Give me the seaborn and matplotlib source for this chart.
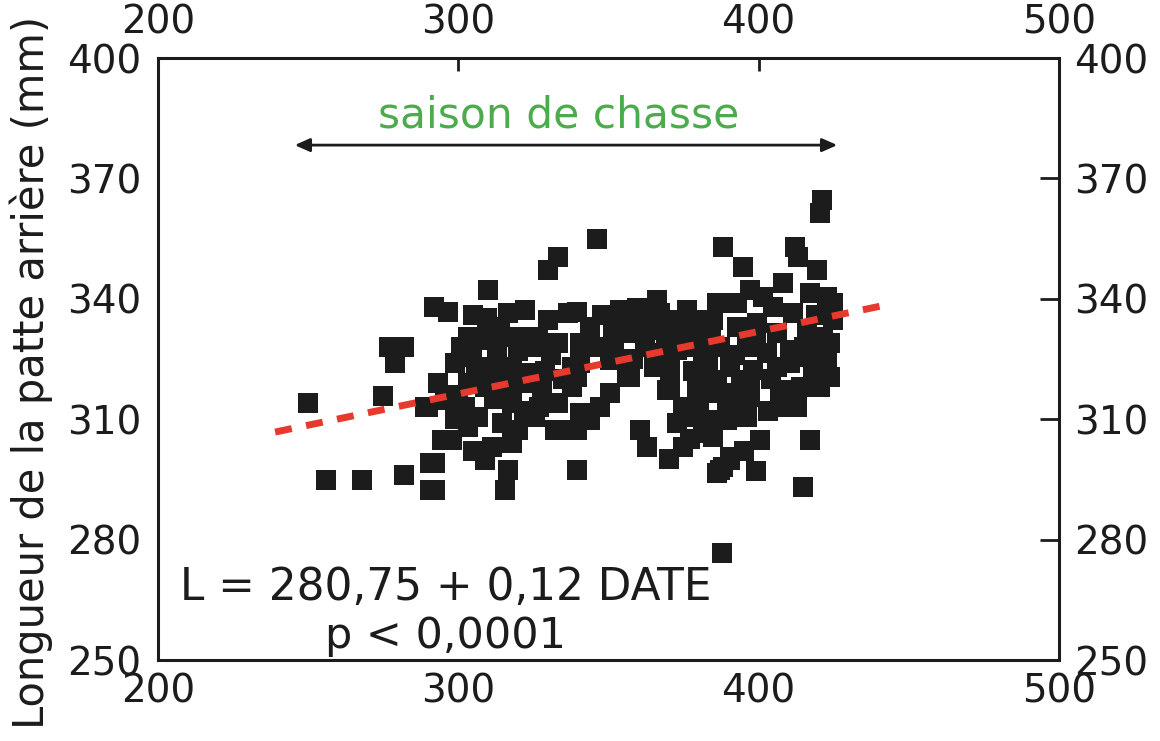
import matplotlib
matplotlib.use('Agg')
import matplotlib.pyplot as plt
import seaborn as sns
import pandas as pd

# date (day of year) and hind foot length (mm)
date = [250, 255.9, 267.9, 281.9, 274.9, 276.9, 281.9, 278.9, 288.9, 290.6, 290.6,
        333.2, 329.9, 309.9, 292, 296.6, 304.9, 309.6, 316.6, 322.2, 329.9, 336.5,
        303.2, 308.9, 315.5, 321.2, 326.5, 325.5, 333.2, 298.9, 304.6, 311.2, 317.9,
        324.5, 337.9, 293.2, 303.2, 308.9, 315.5, 322.2, 327.9, 337.9, 289.9, 295.6,
        302.2, 306.6, 317.9, 325.5, 333.2, 303.2, 314.5, 319.9, 332.2, 337.9, 294.6,
        297.9, 311.2, 308.9, 316.6, 292.2, 292.2, 315.5, 339.5,
        306, 313, 320, 300, 312, 329, 335, 318, 305, 299, 310, 327, 331, 314, 322, 301,
        346.2, 339.5, 353.8, 359.5, 366.2, 367.2, 351.5, 357.2, 363.8, 368.2, 340.5,
        340.5, 339.5, 350.5, 356.2, 350.5, 347.2, 340.5, 343.8, 339.5, 360.5, 362.8,
        370.5, 374.8, 372.8, 374.8, 381.5, 384.8, 366.2, 370.5, 381.5, 384.8, 379.5,
        373.8, 376.2, 386.2, 388,
        421.1, 420.5, 412, 413, 394.8, 419.4, 408, 397.1, 401.5, 417.1, 422.8, 386,
        392.8, 404.8, 411.5, 423.8, 384.8, 392.8, 399.5, 406.1, 416.1, 421.5, 423.8,
        387.1, 396.1, 402.8, 410.5, 417.1, 422.8, 390.5, 398.1, 406.1, 410.5, 418.1,
        423.8, 386.1, 397.1, 420.5, 388.2, 397.1, 407.8, 412.8, 409.5, 389.5, 396.1,
        384.8, 400.5, 417.1, 390.5, 387.1, 414.8, 387.8,
        357.2, 380.5, 360.5, 372.8, 365.2, 355.5, 373.8, 357.2, 365.2, 372.8, 381.5,
        369.5, 379.5, 378.2, 389.5, 388.2, 390.5, 407.1, 411.5, 424.8, 424.8, 422.8,
        344, 348, 346, 352,
        383, 378, 376, 384, 392, 394, 399, 404, 414, 415, 419, 403, 392, 380, 369, 362,
        358, 377, 370, 395, 399]
length = [314, 294.8, 294.8, 296, 315.8, 328, 328, 324, 313, 299, 292.3,
          350.4, 347.2, 342.2, 338, 336.7, 336, 335.2, 336.5, 337.2, 334.7, 336.5,
          330.5, 329.7, 330.5, 330.5, 330.5, 328, 329, 324, 325.5, 323, 323,
          321.5, 323, 319, 319, 318, 319, 319, 317.3, 318, 313, 314.8,
          313, 310.5, 314, 310.5, 314, 308, 309, 307.3, 307.3, 307.3, 304.8,
          304.8, 303.1, 299.8, 297.3, 299.1, 292.3, 292.3, 297.3,
          321, 326, 327, 316, 315, 322, 320, 304, 302, 310, 333, 313, 326, 332, 312, 328,
          354.9, 336.7, 337.2, 337.7, 339.7, 336.5, 332.2, 333, 332.2, 334.7, 329,
          324, 320.5, 324.7, 321.5, 316.5, 313, 311.5, 309.8, 307.3, 307.3, 303.1,
          318, 313, 309, 303, 306.6, 309.8, 326.5, 323, 321.5, 316.5, 330.5,
          334.7, 337.2, 296.6, 353,
          364.6, 361.4, 353, 350.4, 348, 347.2, 344, 342.2, 340.4, 341.4, 340.4, 339,
          339, 338, 336.5, 337.2, 334.7, 333, 334, 331.5, 332.2, 330.5, 329,
          328, 328, 326.5, 327.2, 325.5, 326.5, 323, 322.2, 323, 324, 321.5,
          320.5, 319.8, 319.8, 318, 316.5, 315.5, 317.3, 313, 313, 311.5, 310.5,
          305.6, 304.8, 304.8, 299.8, 297.3, 293.1, 276.6,
          336.5, 334.7, 333, 333, 335.5, 331.5, 330.5, 320.5, 323, 327.2, 326.5,
          317.3, 318, 310.5, 309.8, 298.1, 300.6, 315.5, 313, 334.7, 339, 321.5,
          333, 336, 328, 328,
          324, 322, 328, 331, 326, 318, 330, 320, 318, 328, 336, 312, 313, 314, 330, 328,
          325, 305, 300, 302, 297]

# fitted line as drawn
line_x = [239, 442]
line_y = [306.8, 338.4]

x_ticks = [200, 300, 400, 500]
y_ticks = [250, 280, 310, 340, 370, 400]

season_start, season_end = 244.6, 427.1

df = pd.DataFrame({'date': date, 'length': length})

sns.set_style('white')
plt.rcParams['font.family'] = ['DejaVu Sans']
ink = '#1c1c1c'

fig = plt.figure(figsize=(11.6, 7.41), dpi=100)
ax = fig.add_axes([0.1362, 0.1093, 0.9129 - 0.1362, 0.9217 - 0.1093])

sns.scatterplot(data=df, x='date', y='length', marker='s', s=190, color=ink,
                linewidth=0, ax=ax, zorder=2)
ax.plot(line_x, line_y, color='#e8392e', lw=5, dashes=(2.45, 2.1),
        solid_capstyle='butt', dash_capstyle='butt', zorder=3)

ax.set_xlim(200, 500)
ax.set_ylim(250, 400)
ax.set_xticks(x_ticks)
ax.set_yticks(y_ticks)
ax.set_xlabel('')
ax.set_ylabel('Longueur de la patte arrière (mm)', fontsize=30, color=ink)
ax.yaxis.set_label_coords(-0.117, 0.477)
for s in ax.spines.values():
    s.set_linewidth(2.2)
    s.set_color(ink)
ax.tick_params(axis='x', direction='in', length=9.5, width=2, labelsize=28,
               colors=ink, pad=9)
ax.tick_params(axis='y', direction='in', length=14, width=2, labelsize=28,
               colors=ink, pad=12)

top = ax.secondary_xaxis('top')
top.set_xticks(x_ticks)
top.tick_params(direction='in', length=9.5, width=2, labelsize=28, colors=ink, pad=12)
right = ax.secondary_yaxis('right')
right.set_yticks(y_ticks)
right.tick_params(direction='in', length=14, width=2, labelsize=28, colors=ink, pad=11)

ax.annotate('', xy=(season_end, 378.3), xytext=(season_start, 378.3),
            arrowprops=dict(arrowstyle='<|-|>,head_length=0.9,head_width=0.4',
                            color=ink, lw=2))
ax.text(333.3, 382.6, 'saison de chasse', color='#4cab4c',
        fontsize=30.5, ha='center', va='baseline')
ax.text(207.3, 264.9, 'L = 280,75 + 0,12 DATE', fontsize=31.5, color=ink,
        ha='left', va='baseline')
ax.text(255.6, 253.0, 'p < 0,0001', fontsize=31, color=ink, ha='left', va='baseline')

fig.savefig('out.png', dpi=100)
